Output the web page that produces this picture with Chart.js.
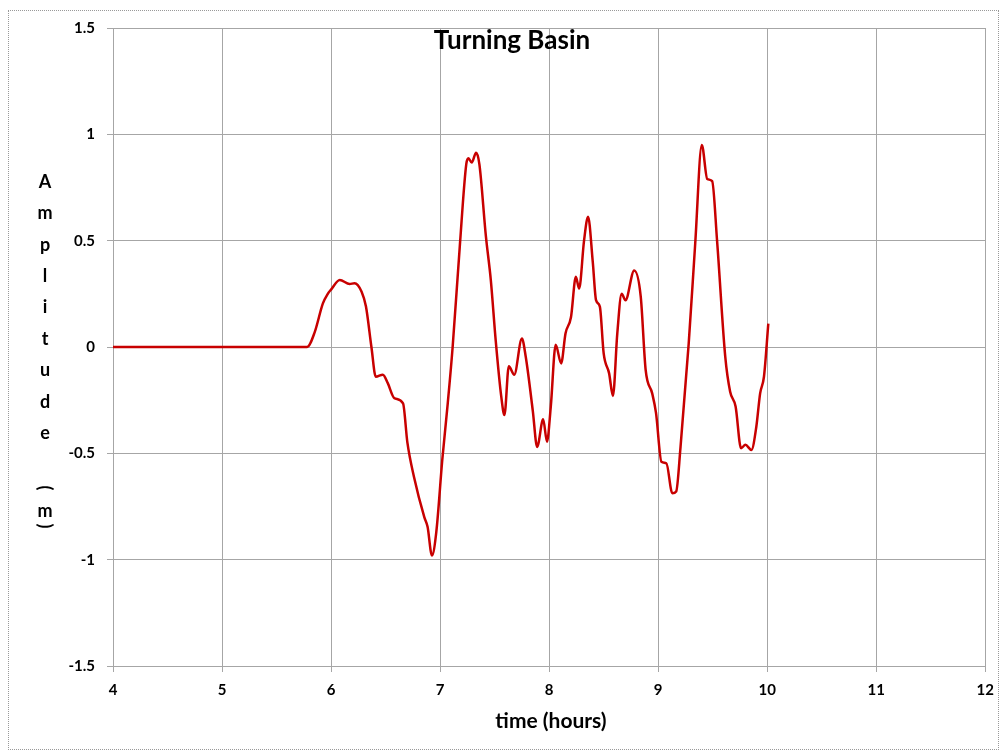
<!DOCTYPE html>
<html>
<head>
<meta charset="utf-8">
<script src="https://cdn.jsdelivr.net/npm/chart.js@4/dist/chart.umd.min.js"></script>
<style>
  body { margin: 0; background: #fff; }
  #wrap { position: relative; width: 1003px; height: 751px; }
  #frame { position: absolute; left: 8px; top: 10px; width: 991px; height: 740px; border: 1px dotted #999; box-sizing: border-box; pointer-events: none; }
  canvas { position: absolute; left: 0; top: 0; }
</style>
</head>
<body>
<div id="wrap">
  <canvas id="graph" width="1003" height="751"></canvas>
  <div id="frame"></div>
</div>
<script>
// time in hours and amplitude in metres
const times = [4.00, 4.5, 5.0, 5.5, 5.78, 5.85, 5.925, 5.97, 6.00, 6.08, 6.17, 6.215, 6.28, 6.32, 6.37, 6.41, 6.475, 6.52, 6.58, 6.66, 6.70, 6.76, 6.855, 6.885, 6.925, 6.965, 7.02, 7.07, 7.115, 7.18, 7.24, 7.26, 7.29, 7.33, 7.36, 7.42, 7.465, 7.51, 7.56, 7.59, 7.63, 7.68, 7.75, 7.785, 7.85, 7.89, 7.945, 7.98, 8.015, 8.06, 8.11, 8.15, 8.20, 8.245, 8.275, 8.32, 8.357, 8.40, 8.43, 8.465, 8.50, 8.55, 8.585, 8.625, 8.665, 8.70, 8.78, 8.84, 8.885, 8.945, 8.98, 9.03, 9.075, 9.13, 9.165, 9.205, 9.28, 9.34, 9.40, 9.45, 9.495, 9.54, 9.615, 9.66, 9.71, 9.76, 9.80, 9.855, 9.90, 9.935, 9.97, 10.01];
const amplitude = [0, 0, 0, 0, 0, 0.07, 0.205, 0.25, 0.27, 0.315, 0.296, 0.30, 0.26, 0.19, 0.0, -0.14, -0.13, -0.17, -0.24, -0.265, -0.45, -0.61, -0.80, -0.845, -0.98, -0.87, -0.53, -0.265, 0.0, 0.47, 0.86, 0.887, 0.867, 0.913, 0.86, 0.52, 0.315, 0.03, -0.23, -0.32, -0.09, -0.13, 0.04, -0.045, -0.30, -0.47, -0.34, -0.445, -0.28, 0.01, -0.077, 0.064, 0.14, 0.33, 0.275, 0.50, 0.613, 0.40, 0.22, 0.19, -0.03, -0.124, -0.23, 0.064, 0.25, 0.22, 0.36, 0.237, -0.108, -0.218, -0.31, -0.54, -0.547, -0.688, -0.68, -0.47, 0.017, 0.49, 0.95, 0.79, 0.78, 0.50, -0.045, -0.21, -0.28, -0.476, -0.46, -0.484, -0.375, -0.218, -0.14, 0.11];
const xTicks = [4, 5, 6, 7, 8, 9, 10, 11, 12];
const yTicks = [-1.5, -1, -0.5, 0, 0.5, 1, 1.5];
const chartTitle = "Turning Basin";
const xTitle = "time (hours)";
const yTitle = ["A", "m", "p", "l", "i", "t", "u", "d", "e", "(", "m", ")"];

const FONT = "Lato, 'Open Sans', sans-serif";
const points = times.map((t, i) => ({ x: t, y: amplitude[i] }));

// titles are drawn by hand, Excel style (stacked y title)
const titles = {
  id: 'titles',
  afterDraw(chart) {
    const ctx = chart.ctx;
    ctx.save();
    ctx.fillStyle = '#000';
    ctx.textAlign = 'center';
    ctx.textBaseline = 'middle';
    ctx.font = "bold 26px " + FONT;
    ctx.fillText(chartTitle, 512, 41);
    ctx.font = "bold 21px " + FONT;
    ctx.fillText(xTitle, 551, 721);
    ctx.font = "bold 18px " + FONT;
    const ys = [182, 213, 245, 276, 307, 339, 370, 402, 433, 488, 511, 526];
    yTitle.forEach((ch, i) => {
      if (ch === '(' || ch === ')') {
        ctx.save();
        ctx.translate(45, ys[i]);
        ctx.rotate(Math.PI / 2);
        ctx.fillText(ch, 0, 0);
        ctx.restore();
      } else {
        ctx.fillText(ch, 45, ys[i]);
      }
    });
    ctx.restore();
  }
};

const ctx = document.getElementById('graph').getContext('2d');
new Chart(ctx, {
  type: 'scatter',
  data: {
    datasets: [{
      data: points,
      showLine: true,
      borderColor: '#c80000',
      borderWidth: 2.5,
      pointRadius: 0,
      cubicInterpolationMode: 'monotone',
      fill: false
    }]
  },
  options: {
    responsive: false,
    animation: false,
    layout: { padding: { top: 28, right: 16, left: 0, bottom: 0 } },
    plugins: { legend: { display: false }, tooltip: { enabled: false } },
    scales: {
      x: {
        type: 'linear',
        min: 4, max: 12,
        afterFit: s => { s.height = 85; },
        afterBuildTicks: s => { s.ticks = xTicks.map(v => ({ value: v })); },
        grid: { color: '#a6a6a6', lineWidth: 1, tickLength: 6, tickColor: '#a6a6a6' },
        border: { color: '#a6a6a6' },
        ticks: { color: '#000', padding: 9, callback: v => String(v), font: { family: FONT, size: 15, weight: 'bold' } }
      },
      y: {
        min: -1.5, max: 1.5,
        afterFit: s => { s.width = 113; },
        afterBuildTicks: s => { s.ticks = yTicks.map(v => ({ value: v })); },
        grid: { color: '#a6a6a6', lineWidth: 1, tickLength: 6, tickColor: '#a6a6a6' },
        border: { color: '#a6a6a6' },
        ticks: { color: '#000', padding: 12, callback: v => String(v), font: { family: FONT, size: 15, weight: 'bold' } }
      }
    }
  },
  plugins: [titles]
});
</script>
</body>
</html>
